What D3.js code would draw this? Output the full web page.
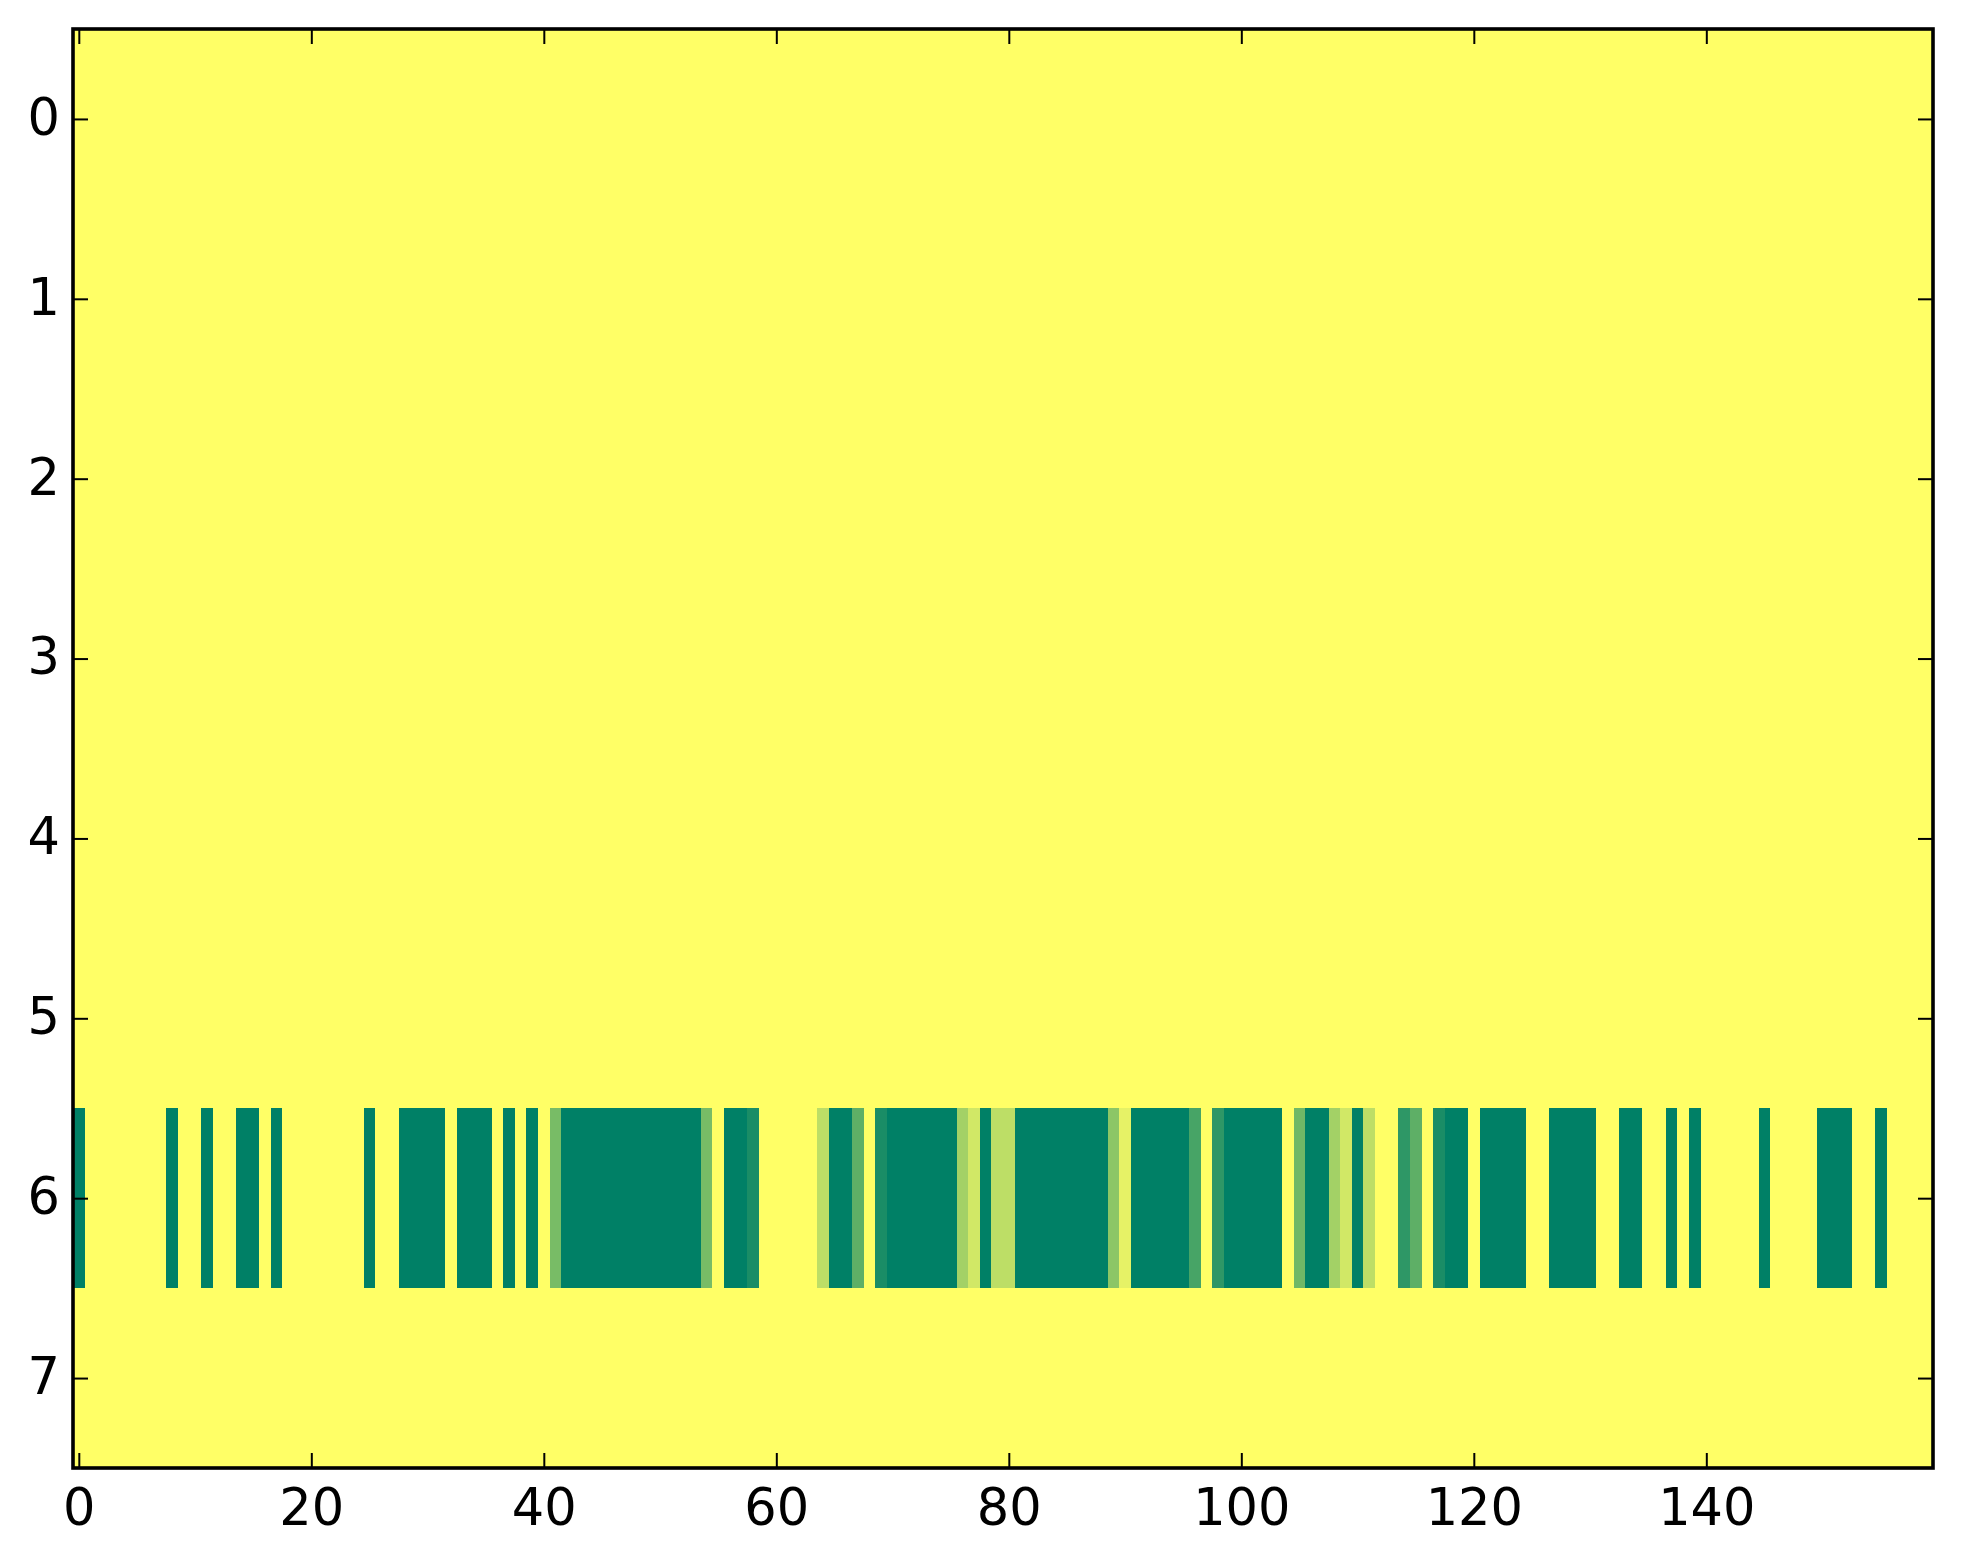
<!DOCTYPE html>
<html>
<head>
<meta charset="utf-8">
<script src="https://cdn.jsdelivr.net/npm/d3@7"></script>
<style>
  html, body { margin: 0; padding: 0; background: #ffffff; }
  svg { display: block; }
  .tick text { font-family: "DejaVu Sans", sans-serif; font-size: 51px; fill: #000; }
</style>
</head>
<body>
<svg id="chart" width="1963" height="1564"></svg>
<script>
// ---- data ----
const rowLabels = [0, 1, 2, 3, 4, 5, 6, 7];
const xTickValues = [0, 20, 40, 60, 80, 100, 120, 140];
const yTickValues = [0, 1, 2, 3, 4, 5, 6, 7];

const row0 = [1,1,1,1,1,1,1,1,1,1, 1,1,1,1,1,1,1,1,1,1, 1,1,1,1,1,1,1,1,1,1, 1,1,1,1,1,1,1,1,1,1,
              1,1,1,1,1,1,1,1,1,1, 1,1,1,1,1,1,1,1,1,1, 1,1,1,1,1,1,1,1,1,1, 1,1,1,1,1,1,1,1,1,1,
              1,1,1,1,1,1,1,1,1,1, 1,1,1,1,1,1,1,1,1,1, 1,1,1,1,1,1,1,1,1,1, 1,1,1,1,1,1,1,1,1,1,
              1,1,1,1,1,1,1,1,1,1, 1,1,1,1,1,1,1,1,1,1, 1,1,1,1,1,1,1,1,1,1, 1,1,1,1,1,1,1,1,1,1];
const row1 = [1,1,1,1,1,1,1,1,1,1, 1,1,1,1,1,1,1,1,1,1, 1,1,1,1,1,1,1,1,1,1, 1,1,1,1,1,1,1,1,1,1,
              1,1,1,1,1,1,1,1,1,1, 1,1,1,1,1,1,1,1,1,1, 1,1,1,1,1,1,1,1,1,1, 1,1,1,1,1,1,1,1,1,1,
              1,1,1,1,1,1,1,1,1,1, 1,1,1,1,1,1,1,1,1,1, 1,1,1,1,1,1,1,1,1,1, 1,1,1,1,1,1,1,1,1,1,
              1,1,1,1,1,1,1,1,1,1, 1,1,1,1,1,1,1,1,1,1, 1,1,1,1,1,1,1,1,1,1, 1,1,1,1,1,1,1,1,1,1];
const row2 = [1,1,1,1,1,1,1,1,1,1, 1,1,1,1,1,1,1,1,1,1, 1,1,1,1,1,1,1,1,1,1, 1,1,1,1,1,1,1,1,1,1,
              1,1,1,1,1,1,1,1,1,1, 1,1,1,1,1,1,1,1,1,1, 1,1,1,1,1,1,1,1,1,1, 1,1,1,1,1,1,1,1,1,1,
              1,1,1,1,1,1,1,1,1,1, 1,1,1,1,1,1,1,1,1,1, 1,1,1,1,1,1,1,1,1,1, 1,1,1,1,1,1,1,1,1,1,
              1,1,1,1,1,1,1,1,1,1, 1,1,1,1,1,1,1,1,1,1, 1,1,1,1,1,1,1,1,1,1, 1,1,1,1,1,1,1,1,1,1];
const row3 = [1,1,1,1,1,1,1,1,1,1, 1,1,1,1,1,1,1,1,1,1, 1,1,1,1,1,1,1,1,1,1, 1,1,1,1,1,1,1,1,1,1,
              1,1,1,1,1,1,1,1,1,1, 1,1,1,1,1,1,1,1,1,1, 1,1,1,1,1,1,1,1,1,1, 1,1,1,1,1,1,1,1,1,1,
              1,1,1,1,1,1,1,1,1,1, 1,1,1,1,1,1,1,1,1,1, 1,1,1,1,1,1,1,1,1,1, 1,1,1,1,1,1,1,1,1,1,
              1,1,1,1,1,1,1,1,1,1, 1,1,1,1,1,1,1,1,1,1, 1,1,1,1,1,1,1,1,1,1, 1,1,1,1,1,1,1,1,1,1];
const row4 = [1,1,1,1,1,1,1,1,1,1, 1,1,1,1,1,1,1,1,1,1, 1,1,1,1,1,1,1,1,1,1, 1,1,1,1,1,1,1,1,1,1,
              1,1,1,1,1,1,1,1,1,1, 1,1,1,1,1,1,1,1,1,1, 1,1,1,1,1,1,1,1,1,1, 1,1,1,1,1,1,1,1,1,1,
              1,1,1,1,1,1,1,1,1,1, 1,1,1,1,1,1,1,1,1,1, 1,1,1,1,1,1,1,1,1,1, 1,1,1,1,1,1,1,1,1,1,
              1,1,1,1,1,1,1,1,1,1, 1,1,1,1,1,1,1,1,1,1, 1,1,1,1,1,1,1,1,1,1, 1,1,1,1,1,1,1,1,1,1];
const row5 = [1,1,1,1,1,1,1,1,1,1, 1,1,1,1,1,1,1,1,1,1, 1,1,1,1,1,1,1,1,1,1, 1,1,1,1,1,1,1,1,1,1,
              1,1,1,1,1,1,1,1,1,1, 1,1,1,1,1,1,1,1,1,1, 1,1,1,1,1,1,1,1,1,1, 1,1,1,1,1,1,1,1,1,1,
              1,1,1,1,1,1,1,1,1,1, 1,1,1,1,1,1,1,1,1,1, 1,1,1,1,1,1,1,1,1,1, 1,1,1,1,1,1,1,1,1,1,
              1,1,1,1,1,1,1,1,1,1, 1,1,1,1,1,1,1,1,1,1, 1,1,1,1,1,1,1,1,1,1, 1,1,1,1,1,1,1,1,1,1];
const row6 = [0,1,1,1,1,1,1,1,0,1,
              1,0,1,1,0,0,1,0,1,1,
              1,1,1,1,1,0,1,1,0,0,
              0,0,1,0,0,0,1,0,1,0,
              1,0.47,0,0,0,0,0,0,0,0,
              0,0,0,0,0.47,1,0,0,0.1,1,
              1,1,1,1,0.74,0,0,0.37,1,0.1,
              0,0,0,0,0,0,0.64,0.82,0,0.74,
              0.74,0,0,0,0,0,0,0,0,0.55,
              0.9,0,0,0,0,0,0.28,1,0.18,0,
              0,0,0,0,1,0.44,0,0,0.64,0.82,
              0,0.74,1,1,0.18,0.37,1,0.1,0,0,
              1,0,0,0,0,1,1,0,0,0,
              0,1,1,0,0,1,1,0,1,0,
              1,1,1,1,1,0,1,1,1,1,
              0,0,0,1,1,0,1,1,1,1];
const row7 = [1,1,1,1,1,1,1,1,1,1, 1,1,1,1,1,1,1,1,1,1, 1,1,1,1,1,1,1,1,1,1, 1,1,1,1,1,1,1,1,1,1,
              1,1,1,1,1,1,1,1,1,1, 1,1,1,1,1,1,1,1,1,1, 1,1,1,1,1,1,1,1,1,1, 1,1,1,1,1,1,1,1,1,1,
              1,1,1,1,1,1,1,1,1,1, 1,1,1,1,1,1,1,1,1,1, 1,1,1,1,1,1,1,1,1,1, 1,1,1,1,1,1,1,1,1,1,
              1,1,1,1,1,1,1,1,1,1, 1,1,1,1,1,1,1,1,1,1, 1,1,1,1,1,1,1,1,1,1, 1,1,1,1,1,1,1,1,1,1];

const matrix = [row0, row1, row2, row3, row4, row5, row6, row7];

(function draw() {
  // ---- layout ----
  const W = 1963, H = 1564;
  const pLeft = 73, pRight = 1933, pTop = 29, pBottom = 1468;
  const nCols = row6.length;

  const svg = d3.select("#chart");
  svg.append("rect").attr("x", 0).attr("y", 0).attr("width", W).attr("height", H).attr("fill", "#ffffff");

  const x = d3.scaleLinear().domain([-0.5, nCols - 0.5]).range([pLeft, pRight]);
  const y = d3.scaleLinear().domain([-0.5, rowLabels.length - 0.5]).range([pTop, pBottom]);

  // matplotlib "summer" colormap: linear from (0,0.5,0.4) to (1,1,0.4)
  const color = d3.scaleLinear().domain([0, 1])
    .range(["rgb(0,128,102)", "rgb(255,255,102)"]).interpolate(d3.interpolateRgb);

  const cells = [];
  matrix.forEach((row, r) => row.forEach((v, c) => cells.push({ r: rowLabels[r], c, v })));

  svg.append("g")
    .selectAll("rect")
    .data(cells)
    .join("rect")
    .attr("x", d => x(d.c - 0.5))
    .attr("y", d => y(d.r - 0.5))
    .attr("width", d => x(d.c + 0.5) - x(d.c - 0.5))
    .attr("height", d => y(d.r + 0.5) - y(d.r - 0.5))
    .attr("fill", d => color(d.v))
    .attr("shape-rendering", "crispEdges");

  // ---- axes (ticks inward, mirrored) ----
  const tickLen = 15;
  function styleAxis(g) {
    g.select(".domain").remove();
    g.selectAll(".tick line").attr("stroke", "#000").attr("stroke-width", 2);
  }

  svg.append("g")
    .attr("transform", `translate(0,${pBottom})`)
    .call(d3.axisBottom(x).tickValues(xTickValues).tickFormat(d3.format("d"))
          .tickSizeInner(-tickLen).tickSizeOuter(0).tickPadding(21))
    .call(styleAxis);

  svg.append("g")
    .attr("transform", `translate(0,${pTop})`)
    .call(d3.axisTop(x).tickValues(xTickValues).tickFormat("")
          .tickSizeInner(-tickLen).tickSizeOuter(0))
    .call(styleAxis);

  svg.append("g")
    .attr("transform", `translate(${pLeft},0)`)
    .call(d3.axisLeft(y).tickValues(yTickValues).tickFormat(d3.format("d"))
          .tickSizeInner(-tickLen).tickSizeOuter(0).tickPadding(13))
    .call(styleAxis)
    .call(g => g.selectAll(".tick text").attr("dy", "0.3em"));

  svg.append("g")
    .attr("transform", `translate(${pRight},0)`)
    .call(d3.axisRight(y).tickValues(yTickValues).tickFormat("")
          .tickSizeInner(-tickLen).tickSizeOuter(0))
    .call(styleAxis);

  svg.selectAll(".tick text").attr("font-family", "DejaVu Sans").attr("font-size", 51);

  // ---- frame ----
  svg.append("rect")
    .attr("x", pLeft).attr("y", pTop)
    .attr("width", pRight - pLeft).attr("height", pBottom - pTop)
    .attr("fill", "none").attr("stroke", "#000").attr("stroke-width", 3.6);
})();
</script>
</body>
</html>
